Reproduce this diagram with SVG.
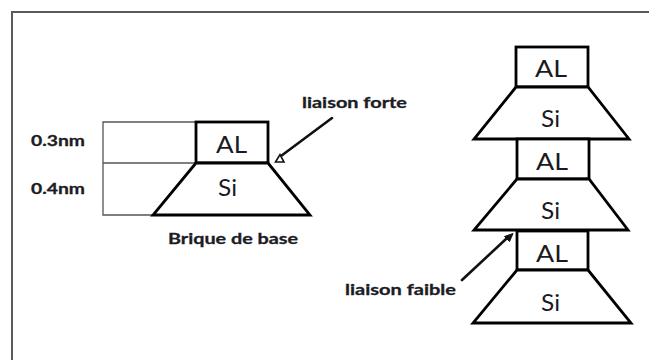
<svg xmlns="http://www.w3.org/2000/svg" width="649" height="360" viewBox="0 0 649 360">
  <defs>
    <style>
      .frame { fill: none; stroke: #5a5a5a; stroke-width: 2; }
      .dim { fill: none; stroke: #555; stroke-width: 1.3; }
      .shape { fill: #fff; stroke: #000; stroke-width: 2.8; stroke-linejoin: miter; }
      .conn { fill: none; stroke: #111; stroke-width: 2.6; stroke-linecap: round; }
      .lbl { font-family: Lato, "Open Sans", "Liberation Sans", sans-serif; font-weight: 700; font-size: 14.5px; fill: #1c1c24; stroke: #1c1c24; stroke-width: 0.3; }
      .big { font-family: Lato, "Open Sans", "Liberation Sans", sans-serif; font-weight: 400; font-size: 24px; fill: #1a1a22; }
    </style>
  </defs>

  <rect width="649" height="360" fill="#fff"/>
  <!-- outer frame: top and left edges -->
  <path class="frame" d="M12,360 V12 H649"/>

  <!-- thickness guide lines of the base brick -->
  <g id="dimensions">
    <path class="dim" d="M196,122 H103 V215 H153 M103,163 H196"/>
    <text class="lbl" x="31" y="146" textLength="54" lengthAdjust="spacingAndGlyphs">0.3nm</text>
    <text class="lbl" x="31" y="194" textLength="54" lengthAdjust="spacingAndGlyphs">0.4nm</text>
  </g>

  <!-- base brick -->
  <g id="brick-al">
    <rect class="shape" x="196" y="122" width="72" height="41"/>
    <text class="big" x="216" y="153" textLength="31" lengthAdjust="spacingAndGlyphs">AL</text>
  </g>
  <g id="brick-si">
    <polygon class="shape" points="196,163 268,163 310,215 153,215"/>
    <text class="big" x="218" y="196" textLength="19" lengthAdjust="spacingAndGlyphs">Si</text>
  </g>
  <g id="brick-caption">
    <text class="lbl" x="168" y="244" textLength="130" lengthAdjust="spacingAndGlyphs">Brique de base</text>
  </g>

  <!-- stacked bricks -->
  <g id="stack-al-1">
    <rect class="shape" x="516" y="47" width="72" height="40"/>
    <text class="big" x="535" y="77" textLength="32" lengthAdjust="spacingAndGlyphs">AL</text>
  </g>
  <g id="stack-si-1">
    <polygon class="shape" points="516,87 588,87 629,139 474,139"/>
    <text class="big" x="541" y="127" textLength="19" lengthAdjust="spacingAndGlyphs">Si</text>
  </g>
  <g id="stack-al-2">
    <rect class="shape" x="517" y="139" width="72" height="40"/>
    <text class="big" x="536" y="170" textLength="32" lengthAdjust="spacingAndGlyphs">AL</text>
  </g>
  <g id="stack-si-2">
    <polygon class="shape" points="517,179 589,179 628,230 474,230"/>
    <text class="big" x="541" y="219" textLength="19" lengthAdjust="spacingAndGlyphs">Si</text>
  </g>
  <g id="stack-al-3">
    <rect class="shape" x="517" y="231" width="71" height="39"/>
    <text class="big" x="536" y="262" textLength="32" lengthAdjust="spacingAndGlyphs">AL</text>
  </g>
  <g id="stack-si-3">
    <polygon class="shape" points="517,270 588,270 631,323 473,323"/>
    <text class="big" x="541" y="311" textLength="19" lengthAdjust="spacingAndGlyphs">Si</text>
  </g>

  <!-- bond labels -->
  <g id="label-forte">
    <text class="lbl" x="302" y="108" textLength="105" lengthAdjust="spacingAndGlyphs">liaison forte</text>
  </g>
  <g id="label-faible">
    <text class="lbl" x="345" y="295" textLength="111" lengthAdjust="spacingAndGlyphs">liaison faible</text>
  </g>

  <!-- pointer arrows -->
  <g id="connectors">
    <line class="conn" x1="332" y1="118" x2="281" y2="156"/>
    <polygon points="275.5,162 280,154.5 284,162" fill="#fff" stroke="#111" stroke-width="1.6" stroke-linejoin="miter"/>
    <line class="conn" x1="462" y1="280" x2="506" y2="239"/>
    <polygon points="513,233.5 509.5,241.5 504.5,236.5" fill="#111" stroke="#111" stroke-width="1"/>
  </g>
</svg>
